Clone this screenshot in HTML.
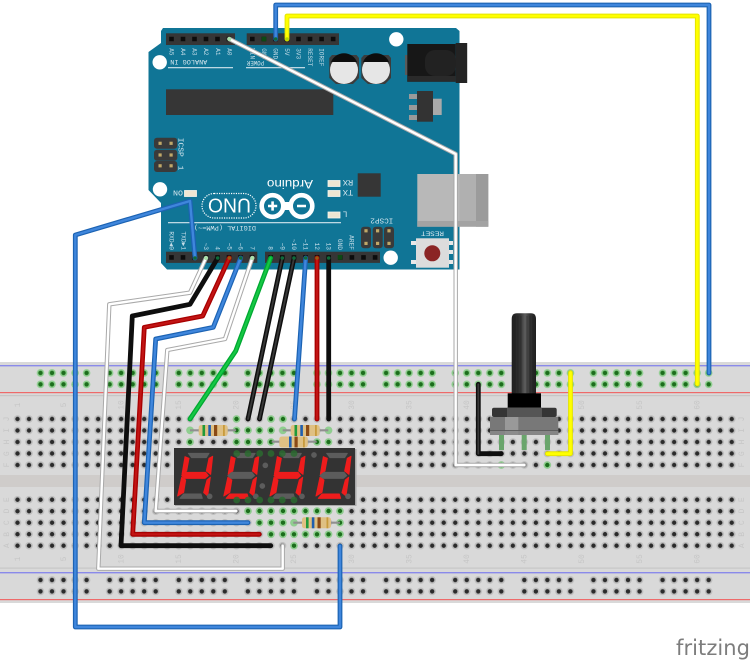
<!DOCTYPE html>
<html lang="en">
<head>
<meta charset="utf-8">
<title>Arduino breadboard diagram</title>
<style>
html,body{margin:0;padding:0;background:#fff;width:750px;height:661px;overflow:hidden}
svg{display:block;filter:blur(.35px)}
text{font-family:"Liberation Mono",monospace}
.lb{font-family:"Liberation Sans",sans-serif;font-size:8px;fill:#c6c6c6;text-anchor:middle}
.al{font-size:6px;fill:#c5dde8}
.ae{font-size:6.2px;fill:#c5dde8;text-anchor:end}
.h{font-size:6.6px;fill:#d5e6ee}
.w{fill:none;stroke-linejoin:round;stroke-linecap:round}
.on{fill:#ee1c1c;stroke:#ee1c1c;stroke-width:3;stroke-linejoin:round}
.off{fill:#5c5c5c;stroke:#5c5c5c;stroke-width:3;stroke-linejoin:round}
</style>
</head>
<body>
<svg width="750" height="661" viewBox="0 0 750 661" xmlns="http://www.w3.org/2000/svg">
<defs>
<pattern id="hm" x="11.74" y="413.25" width="11.52" height="11.5" patternUnits="userSpaceOnUse">
<circle cx="5.76" cy="5.75" r="3.8" fill="#bdbdbd"/><circle cx="5.76" cy="5.75" r="2.2" fill="#2b2b2b"/>
</pattern>
<pattern id="hb" x="11.74" y="493.95" width="11.52" height="11.5" patternUnits="userSpaceOnUse">
<circle cx="5.76" cy="5.75" r="3.8" fill="#bdbdbd"/><circle cx="5.76" cy="5.75" r="2.2" fill="#2b2b2b"/>
</pattern>
<pattern id="rt" x="34.74" y="367.25" width="69.12" height="11.4" patternUnits="userSpaceOnUse">
<circle cx="5.76" cy="5.7" r="3.8" fill="#8fce8f"/><circle cx="5.76" cy="5.7" r="2.2" fill="#1c6e1c"/>
<circle cx="17.28" cy="5.7" r="3.8" fill="#8fce8f"/><circle cx="17.28" cy="5.7" r="2.2" fill="#1c6e1c"/>
<circle cx="28.8" cy="5.7" r="3.8" fill="#8fce8f"/><circle cx="28.8" cy="5.7" r="2.2" fill="#1c6e1c"/>
<circle cx="40.32" cy="5.7" r="3.8" fill="#8fce8f"/><circle cx="40.32" cy="5.7" r="2.2" fill="#1c6e1c"/>
<circle cx="51.84" cy="5.7" r="3.8" fill="#8fce8f"/><circle cx="51.84" cy="5.7" r="2.2" fill="#1c6e1c"/>
</pattern>
<pattern id="rb" x="34.74" y="574.3" width="69.12" height="11.4" patternUnits="userSpaceOnUse">
<circle cx="5.76" cy="5.7" r="3.8" fill="#bdbdbd"/><circle cx="5.76" cy="5.7" r="2.2" fill="#2b2b2b"/>
<circle cx="17.28" cy="5.7" r="3.8" fill="#bdbdbd"/><circle cx="17.28" cy="5.7" r="2.2" fill="#2b2b2b"/>
<circle cx="28.8" cy="5.7" r="3.8" fill="#bdbdbd"/><circle cx="28.8" cy="5.7" r="2.2" fill="#2b2b2b"/>
<circle cx="40.32" cy="5.7" r="3.8" fill="#bdbdbd"/><circle cx="40.32" cy="5.7" r="2.2" fill="#2b2b2b"/>
<circle cx="51.84" cy="5.7" r="3.8" fill="#bdbdbd"/><circle cx="51.84" cy="5.7" r="2.2" fill="#2b2b2b"/>
</pattern>
<linearGradient id="shaft" x1="0" x2="1" y1="0" y2="0">
<stop offset="0" stop-color="#1e1e1e"/><stop offset=".35" stop-color="#333"/><stop offset=".55" stop-color="#5e5e5e"/><stop offset=".75" stop-color="#333"/><stop offset="1" stop-color="#1e1e1e"/>
</linearGradient>
</defs>

<!-- breadboard -->
<rect x="0" y="362" width="750" height="241" fill="#d9d9d9"/>
<rect x="0" y="475" width="750" height="12" fill="#cfccca"/>
<rect x="0" y="395" width="750" height="1.2" fill="#c6c6c6"/>
<rect x="0" y="567.5" width="750" height="1.2" fill="#c6c6c6"/>
<rect x="0" y="365" width="750" height="1.4" fill="#8a8aea"/>
<rect x="0" y="392" width="750" height="1.2" fill="#ee6a6a"/>
<rect x="0" y="572" width="750" height="1.4" fill="#8a8aea"/>
<rect x="0" y="599" width="750" height="1.2" fill="#ee6a6a"/>

<rect x="34.74" y="367.25" width="691.2" height="22.8" fill="url(#rt)"/>
<rect x="34.74" y="574.3" width="691.2" height="22.8" fill="url(#rb)"/>
<rect x="11.74" y="413.25" width="725" height="57.5" fill="url(#hm)"/>
<rect x="11.74" y="493.95" width="725" height="57.5" fill="url(#hb)"/>

<!-- labels -->
<g class="lb">
<text transform="translate(20,405) rotate(-90)">1</text><text transform="translate(66,405) rotate(-90)">5</text><text transform="translate(123.5,405) rotate(-90)">10</text><text transform="translate(181,405) rotate(-90)">15</text><text transform="translate(238.5,405) rotate(-90)">20</text><text transform="translate(296,405) rotate(-90)">25</text><text transform="translate(354,405) rotate(-90)">30</text><text transform="translate(411.5,405) rotate(-90)">35</text><text transform="translate(469,405) rotate(-90)">40</text><text transform="translate(526.5,405) rotate(-90)">45</text><text transform="translate(584,405) rotate(-90)">50</text><text transform="translate(642,405) rotate(-90)">55</text><text transform="translate(699.5,405) rotate(-90)">60</text>
<text transform="translate(20,559) rotate(-90)">1</text><text transform="translate(66,559) rotate(-90)">5</text><text transform="translate(123.5,559) rotate(-90)">10</text><text transform="translate(181,559) rotate(-90)">15</text><text transform="translate(238.5,559) rotate(-90)">20</text><text transform="translate(296,559) rotate(-90)">25</text><text transform="translate(354,559) rotate(-90)">30</text><text transform="translate(411.5,559) rotate(-90)">35</text><text transform="translate(469,559) rotate(-90)">40</text><text transform="translate(526.5,559) rotate(-90)">45</text><text transform="translate(584,559) rotate(-90)">50</text><text transform="translate(642,559) rotate(-90)">55</text><text transform="translate(699.5,559) rotate(-90)">60</text>
<text transform="translate(9,419) rotate(-90)">J</text><text transform="translate(9,430.3) rotate(-90)">I</text><text transform="translate(9,442) rotate(-90)">H</text><text transform="translate(9,453.7) rotate(-90)">G</text><text transform="translate(9,465) rotate(-90)">F</text>
<text transform="translate(9,499.7) rotate(-90)">E</text><text transform="translate(9,511) rotate(-90)">D</text><text transform="translate(9,522.7) rotate(-90)">C</text><text transform="translate(9,534.3) rotate(-90)">B</text><text transform="translate(9,545.7) rotate(-90)">A</text>
<text transform="translate(744,419) rotate(-90)">J</text><text transform="translate(744,430.3) rotate(-90)">I</text><text transform="translate(744,442) rotate(-90)">H</text><text transform="translate(744,453.7) rotate(-90)">G</text><text transform="translate(744,465) rotate(-90)">F</text>
<text transform="translate(744,499.7) rotate(-90)">E</text><text transform="translate(744,511) rotate(-90)">D</text><text transform="translate(744,522.7) rotate(-90)">C</text><text transform="translate(744,534.3) rotate(-90)">B</text><text transform="translate(744,545.7) rotate(-90)">A</text>
</g>

<!-- connected green holes -->
<g fill="#8fce8f">
<circle cx="236.5" cy="419" r="3.8"/><circle cx="271" cy="419" r="3.8"/><circle cx="283" cy="419" r="3.8"/>
<circle cx="190" cy="430.3" r="3.8"/><circle cx="236.5" cy="430.3" r="3.8"/><circle cx="248" cy="430.3" r="3.8"/><circle cx="259.5" cy="430.3" r="3.8"/><circle cx="271" cy="430.3" r="3.8"/><circle cx="283" cy="430.3" r="3.8"/><circle cx="328.5" cy="430.3" r="3.8"/>
<circle cx="190" cy="442" r="3.8"/><circle cx="236.5" cy="442" r="3.8"/><circle cx="248" cy="442" r="3.8"/><circle cx="259.5" cy="442" r="3.8"/><circle cx="271" cy="442" r="3.8"/><circle cx="317" cy="442" r="3.8"/><circle cx="328.5" cy="442" r="3.8"/>
<circle cx="248" cy="511" r="3.8"/><circle cx="259.5" cy="511" r="3.8"/><circle cx="271" cy="511" r="3.8"/><circle cx="283" cy="511" r="3.8"/><circle cx="294" cy="511" r="3.8"/><circle cx="305.5" cy="511" r="3.8"/><circle cx="317" cy="511" r="3.8"/><circle cx="328.5" cy="511" r="3.8"/><circle cx="340" cy="511" r="3.8"/>
<circle cx="259.5" cy="522.7" r="3.8"/><circle cx="271" cy="522.7" r="3.8"/><circle cx="283" cy="522.7" r="3.8"/><circle cx="294" cy="522.7" r="3.8"/><circle cx="340" cy="522.7" r="3.8"/>
<circle cx="271" cy="534.3" r="3.8"/><circle cx="283" cy="534.3" r="3.8"/><circle cx="294" cy="534.3" r="3.8"/><circle cx="305.5" cy="534.3" r="3.8"/><circle cx="317" cy="534.3" r="3.8"/><circle cx="328.5" cy="534.3" r="3.8"/><circle cx="340" cy="534.3" r="3.8"/>
<circle cx="294" cy="545.7" r="3.8"/><circle cx="501.3" cy="465" r="3.8"/><circle cx="547.3" cy="465" r="3.8"/>
</g>
<g fill="#1c6e1c">
<circle cx="236.5" cy="419" r="2.2"/><circle cx="271" cy="419" r="2.2"/><circle cx="283" cy="419" r="2.2"/>
<circle cx="236.5" cy="430.3" r="2.2"/><circle cx="248" cy="430.3" r="2.2"/><circle cx="259.5" cy="430.3" r="2.2"/><circle cx="271" cy="430.3" r="2.2"/>
<circle cx="190" cy="442" r="2.2"/><circle cx="236.5" cy="442" r="2.2"/><circle cx="248" cy="442" r="2.2"/><circle cx="259.5" cy="442" r="2.2"/><circle cx="271" cy="442" r="2.2"/><circle cx="317" cy="442" r="2.2"/><circle cx="328.5" cy="442" r="2.2"/>
<circle cx="248" cy="511" r="2.2"/><circle cx="259.5" cy="511" r="2.2"/><circle cx="271" cy="511" r="2.2"/><circle cx="283" cy="511" r="2.2"/><circle cx="294" cy="511" r="2.2"/><circle cx="305.5" cy="511" r="2.2"/><circle cx="317" cy="511" r="2.2"/><circle cx="328.5" cy="511" r="2.2"/><circle cx="340" cy="511" r="2.2"/>
<circle cx="259.5" cy="522.7" r="2.2"/><circle cx="271" cy="522.7" r="2.2"/><circle cx="283" cy="522.7" r="2.2"/><circle cx="340" cy="522.7" r="2.2"/>
<circle cx="271" cy="534.3" r="2.2"/><circle cx="283" cy="534.3" r="2.2"/><circle cx="294" cy="534.3" r="2.2"/><circle cx="305.5" cy="534.3" r="2.2"/><circle cx="317" cy="534.3" r="2.2"/><circle cx="328.5" cy="534.3" r="2.2"/><circle cx="340" cy="534.3" r="2.2"/>
<circle cx="294" cy="545.7" r="2.2"/><circle cx="501.3" cy="465" r="2.2"/><circle cx="547.3" cy="465" r="2.2"/>
</g>

<!-- resistors -->
<g>
<path d="M190 430.3H236M282.7 430.3H328.3M271.7 441.7H316.7M293.3 522.7H340" stroke="#8f8f8f" stroke-width="2.2"/>
<rect x="198.7" y="425" width="29" height="11" rx="2.5" fill="#dfc083"/>
<rect x="290.7" y="425" width="29" height="11" rx="2.5" fill="#dfc083"/>
<rect x="279.3" y="436.5" width="28.5" height="11" rx="2.5" fill="#dfc083"/>
<rect x="302" y="517.3" width="29" height="11" rx="2.5" fill="#dfc083"/>
<g fill="#1f9a3a"><rect x="202.5" y="425" width="2.6" height="11"/><rect x="294.5" y="425" width="2.6" height="11"/><rect x="306" y="517.3" width="2.6" height="11"/></g>
<g fill="#1f5fb0"><rect x="208.3" y="425" width="2.6" height="11"/><rect x="300.3" y="425" width="2.6" height="11"/><rect x="289" y="436.5" width="2.6" height="11"/><rect x="311.8" y="517.3" width="2.6" height="11"/></g>
<g fill="#8a4a16"><rect x="214" y="425" width="3.2" height="11"/><rect x="306" y="425" width="3.2" height="11"/><rect x="294.5" y="436.5" width="3.2" height="11"/><rect x="317.5" y="517.3" width="3.2" height="11"/></g>
<g fill="#c89b3c"><rect x="223" y="425" width="1.8" height="11"/><rect x="315" y="425" width="1.8" height="11"/><rect x="303" y="436.5" width="1.8" height="11"/><rect x="326.5" y="517.3" width="1.8" height="11"/></g>
</g>

<!-- 7 segment display -->
<rect x="175" y="449" width="181.5" height="57" fill="#a9a9a9"/>
<rect x="174" y="448" width="181" height="57" fill="#333"/>
<g transform="translate(165,415) scale(.3333)">
<g>
<polygon class="off" points="70,115 132,115 124,128 80,128"/><polygon class="on" points="60,125 72,130 65,168 51,178"/><polygon class="on" points="132,130 143,124 137,178 124,168"/><polygon class="on" points="50,182 62,172 122,172 130,182 120,190 58,190"/><polygon class="on" points="50,187 62,195 56,232 38,243"/><polygon class="on" points="126,195 136,187 128,243 116,233"/><polygon class="off" points="45,250 56,237 108,237 112,250"/><circle class="off" cx="134" cy="244" r="7"/>
</g>
<g transform="translate(138.5,0)">
<polygon class="off" points="70,115 132,115 124,128 80,128"/><polygon class="on" points="60,125 72,130 65,168 51,178"/><polygon class="on" points="132,130 143,124 137,178 124,168"/><polygon class="off" points="50,182 62,172 122,172 130,182 120,190 58,190"/><polygon class="on" points="50,187 62,195 56,232 38,243"/><polygon class="on" points="126,195 136,187 128,243 116,233"/><polygon class="on" points="45,250 56,237 108,237 112,250"/><circle class="off" cx="134" cy="244" r="7"/>
</g>
<g transform="translate(277,0)">
<polygon class="off" points="70,115 132,115 124,128 80,128"/><polygon class="on" points="60,125 72,130 65,168 51,178"/><polygon class="on" points="132,130 143,124 137,178 124,168"/><polygon class="on" points="50,182 62,172 122,172 130,182 120,190 58,190"/><polygon class="on" points="50,187 62,195 56,232 38,243"/><polygon class="on" points="126,195 136,187 128,243 116,233"/><polygon class="off" points="45,250 56,237 108,237 112,250"/><circle class="off" cx="134" cy="244" r="7"/>
</g>
<g transform="translate(415,0)">
<polygon class="off" points="70,115 132,115 124,128 80,128"/><polygon class="on" points="60,125 72,130 65,168 51,178"/><polygon class="on" points="132,130 143,124 137,178 124,168"/><polygon class="off" points="50,182 62,172 122,172 130,182 120,190 58,190"/><polygon class="on" points="50,187 62,195 56,232 38,243"/><polygon class="on" points="126,195 136,187 128,243 116,233"/><polygon class="on" points="45,250 56,237 108,237 112,250"/><circle class="off" cx="134" cy="244" r="7"/>
</g>
<circle class="off" cx="301" cy="151" r="7"/><circle class="off" cx="292" cy="213" r="7"/><circle class="off" cx="447" cy="120" r="7"/>
</g>
<g fill="#2c6a30" fill-opacity=".85">
<circle cx="236.7" cy="453.5" r="3.4"/><circle cx="248" cy="453.5" r="3.4"/><circle cx="259.7" cy="453.5" r="3.4"/><circle cx="271" cy="453.5" r="3.4"/><circle cx="282.3" cy="453.5" r="3.4"/><circle cx="294" cy="453.5" r="3.4"/>
<circle cx="236.7" cy="500" r="3.4"/><circle cx="248" cy="500" r="3.4"/><circle cx="259.7" cy="500" r="3.4"/><circle cx="271" cy="500" r="3.4"/><circle cx="282.3" cy="500" r="3.4"/><circle cx="294" cy="500" r="3.4"/>
</g>

<!-- potentiometer -->
<g>
<rect x="499" y="435" width="5" height="15" fill="#6aa56c"/><rect x="521.7" y="435" width="5" height="15" fill="#6aa56c"/><rect x="545" y="435" width="5" height="15" fill="#6aa56c"/>
<path d="M511.7 319Q511.7 313.3 517 313.3H531Q536 313.3 536 319V394H511.7Z" fill="url(#shaft)"/>
<path d="M515 316V393M518 316V393M521 316V393M527 316V393M530 316V393M533 316V393" stroke="#151515" stroke-width=".5" opacity=".6"/>
<rect x="507.7" y="393.3" width="33.3" height="14.4" fill="#000"/>
<rect x="492" y="407.7" width="64.7" height="9.3" rx="2" fill="#353535"/>
<rect x="507" y="407.7" width="35" height="9.5" fill="#555"/>
<rect x="490" y="417" width="68.3" height="18" fill="#787878"/>
<rect x="505" y="417" width="13.3" height="18" fill="#999"/>
<rect x="490" y="430.5" width="68.3" height="4.5" fill="#8a8a8a" opacity=".8"/>
<rect x="490" y="430" width="68.3" height=".8" fill="#555"/>
</g>

<!-- arduino -->
<path d="M163 28H456L459.5 31V269.5H167L161 263V203L148.5 190V52L161 43V31Z" fill="#107596"/>
<rect x="417.3" y="174" width="71" height="52.7" fill="#b8b8b8"/>
<rect x="476" y="174" width="12.3" height="52.7" fill="#9b9b9b"/>
<rect x="417.3" y="221" width="71" height="5.7" fill="#a3a3a3"/>
<rect x="459.5" y="174" width="16.5" height="47" fill="#b0b0b0"/>

<g fill="#fff"><circle cx="396.3" cy="39.3" r="7.2"/><circle cx="159.7" cy="62.3" r="7.2"/><circle cx="160" cy="189.3" r="7.2"/><circle cx="390.7" cy="257.7" r="7.2"/></g>
<g fill="#363636">
<rect x="166" y="33.3" width="69" height="11.7"/><rect x="246.7" y="33.3" width="92.3" height="11.7"/>
<rect x="166" y="251.7" width="91.3" height="11.2"/><rect x="265" y="251.7" width="115" height="11.2"/>
<rect x="166" y="89.3" width="167.3" height="25.7"/>
<rect x="357.7" y="173.3" width="23" height="23.4"/>
</g>
<g stroke="#0c0c0c" stroke-width="4.6" fill="none">
<line x1="169.2" y1="39" x2="235" y2="39" stroke-dasharray="4.6 6.9"/>
<line x1="250" y1="39" x2="338" y2="39" stroke-dasharray="4.6 6.95"/>
<line x1="169.2" y1="257.4" x2="256" y2="257.4" stroke-dasharray="4.6 6.9"/>
<line x1="268.4" y1="257.4" x2="379" y2="257.4" stroke-dasharray="4.6 7"/>
</g>
<rect x="261.7" y="36.7" width="4.6" height="4.6" fill="#0c4a14"/>
<rect x="337.7" y="255" width="4.6" height="4.6" fill="#0c4a14"/>

<!-- ICSP -->
<g fill="#3a3a3a">
<rect x="154" y="137.7" width="23.3" height="11" rx="3"/><rect x="154" y="149.7" width="23.3" height="11" rx="3"/><rect x="154" y="161" width="23.3" height="11" rx="3"/>
<rect x="361" y="226.7" width="10" height="21.6" rx="3"/><rect x="372.7" y="226.7" width="10" height="21.6" rx="3"/><rect x="384" y="226.7" width="10" height="21.6" rx="3"/>
</g>
<g fill="#c0a868">
<rect x="158.5" y="141.7" width="3.2" height="3.2"/><rect x="169.5" y="141.7" width="3.2" height="3.2"/><rect x="158.5" y="153.4" width="3.2" height="3.2"/><rect x="169.5" y="153.4" width="3.2" height="3.2"/><rect x="158.5" y="164.2" width="3.2" height="3.2"/><rect x="169.5" y="164.2" width="3.2" height="3.2"/>
<rect x="364.4" y="229.2" width="3.2" height="3.2"/><rect x="376" y="229.2" width="3.2" height="3.2"/><rect x="387.4" y="229.2" width="3.2" height="3.2"/><rect x="364.4" y="241.8" width="3.2" height="3.2"/><rect x="376" y="241.8" width="3.2" height="3.2"/><rect x="387.4" y="241.8" width="3.2" height="3.2"/>
</g>

<!-- capacitors -->
<g>
<path d="M332 55H356.5L359 58V78L353 84H336L329.3 78V58Z" fill="#3c3c3c"/>
<path d="M364 55H388.5L391 58V78L385 84H368L361.3 78V58Z" fill="#3c3c3c"/>
<circle cx="344" cy="70" r="14" fill="#e6e6e6"/><circle cx="376" cy="70" r="14" fill="#e6e6e6"/>
<path d="M331 62A14 14 0 0 1 357 62Z" fill="#0d0d0d"/><path d="M363 62A14 14 0 0 1 389 62Z" fill="#0d0d0d"/>
</g>

<!-- power jack -->
<rect x="405" y="55" width="3" height="20" fill="#5a5a5a"/>
<rect x="407.3" y="44" width="48.4" height="37.7" fill="#171717"/>
<rect x="407.3" y="76" width="48.4" height="5.7" fill="#2a2a2a"/>
<rect x="425" y="50" width="31" height="26" rx="10" fill="#222"/>
<rect x="455.7" y="43" width="11.5" height="40" fill="#242424"/>

<!-- regulator -->
<g fill="#9a9a9a"><rect x="409" y="94" width="8" height="5"/><rect x="409" y="105" width="8" height="5"/><rect x="409" y="115" width="8" height="5"/></g>
<rect x="433" y="98.7" width="8.7" height="16.3" fill="#aaa"/>
<rect x="417" y="91" width="16" height="30.7" fill="#333"/>

<!-- reset -->
<g fill="#e8e8e8"><rect x="411" y="241" width="5" height="4"/><rect x="411" y="260" width="5" height="4"/><rect x="449" y="241" width="4" height="4"/><rect x="449" y="250" width="4" height="4"/><rect x="449" y="260" width="4" height="4"/></g>
<rect x="416" y="238.3" width="33" height="29.4" fill="#dcdcdc"/>
<circle cx="432.3" cy="253.3" r="8" fill="#8b2525"/>

<!-- LEDs -->
<g fill="#efe6d2" stroke="#f8f6ee" stroke-width=".8">
<rect x="184.5" y="190.5" width="12" height="6"/><rect x="328" y="180.5" width="12" height="6"/><rect x="328" y="190.5" width="12" height="6"/><rect x="328" y="212" width="12" height="6"/>
</g>

<!-- silk lines -->
<g stroke="#d5e6ee" stroke-width="1.1" fill="none">
<line x1="168" y1="67.7" x2="233" y2="67.7"/><line x1="246" y1="67.7" x2="305" y2="67.7"/><line x1="168" y1="222.7" x2="341" y2="222.7"/>
</g>

<!-- logo -->
<rect x="202" y="193.5" width="54" height="24.5" rx="12.2" fill="none" stroke="#fff" stroke-width="1.2" stroke-dasharray="1.2 1.2"/>
<text transform="translate(251,198.5) rotate(180)" font-size="20" fill="#fff" textLength="43" lengthAdjust="spacingAndGlyphs" style="font-family:'Liberation Sans',sans-serif">UNO</text>
<circle cx="272.5" cy="206" r="10.8" fill="none" stroke="#fff" stroke-width="4.6"/>
<circle cx="301.5" cy="206" r="10.8" fill="none" stroke="#fff" stroke-width="4.6"/>
<rect x="283" y="202" width="8" height="8" fill="#fff"/>
<path d="M268 206h9.2M272.6 201.4v9.2M297 206h9" stroke="#fff" stroke-width="2.6" fill="none"/>
<text transform="translate(313,180) rotate(180)" font-size="11.5" fill="#fff" textLength="46" lengthAdjust="spacingAndGlyphs" style="font-family:'Liberation Sans',sans-serif">Arduino</text>

<!-- board text -->
<g class="h">
<text transform="translate(207.3,60) rotate(180)" textLength="37" lengthAdjust="spacingAndGlyphs" style="font-size:6px">ANALOG IN</text>
<text transform="translate(264,61) rotate(180)" textLength="17" lengthAdjust="spacingAndGlyphs" style="font-size:6px">POWER</text>
<text transform="translate(256,226) rotate(180)" textLength="62" lengthAdjust="spacingAndGlyphs" style="font-size:6px">DIGITAL (PWM=~)</text>
<text transform="translate(183,190.7) rotate(180)" textLength="10" lengthAdjust="spacingAndGlyphs" style="font-size:7px">ON</text>
<text transform="translate(353.3,180) rotate(180)" textLength="10.6" lengthAdjust="spacingAndGlyphs" style="font-size:8px">RX</text>
<text transform="translate(353.3,190) rotate(180)" textLength="10.6" lengthAdjust="spacingAndGlyphs" style="font-size:8px">TX</text>
<text transform="translate(347.5,211.7) rotate(180)" style="font-size:8px">L</text>
<text transform="translate(393.3,218.3) rotate(180)" textLength="23" lengthAdjust="spacingAndGlyphs" style="font-size:7.5px">ICSP2</text>
<text transform="translate(444,231.7) rotate(180)" textLength="23" lengthAdjust="spacingAndGlyphs" style="font-size:6.5px">RESET</text>
<text transform="translate(178.5,137.7) rotate(90)" textLength="19" lengthAdjust="spacingAndGlyphs" style="font-size:7.5px">ICSP</text>
<text transform="translate(178.5,165.7) rotate(90)" style="font-size:7.5px">1</text>
</g>
<g class="al">
<text transform="translate(169.5,48.3) rotate(90)">A5</text><text transform="translate(181,48.3) rotate(90)">A4</text><text transform="translate(192.6,48.3) rotate(90)">A3</text><text transform="translate(204.2,48.3) rotate(90)">A2</text><text transform="translate(216,48.3) rotate(90)">A1</text><text transform="translate(227.4,48.3) rotate(90)">A0</text>
<text transform="translate(250.3,48.3) rotate(90)">VIN</text><text transform="translate(262,48.3) rotate(90)">GND</text><text transform="translate(273.7,48.3) rotate(90)">GND</text><text transform="translate(285,48.3) rotate(90)">5V</text><text transform="translate(296.6,48.3) rotate(90)">3V3</text><text transform="translate(308,48.3) rotate(90)">RESET</text><text transform="translate(319.6,48.3) rotate(90)">IOREF</text>
</g>
<g class="ae">
<text transform="translate(169.5,250) rotate(90)">RXD◄0</text><text transform="translate(181.3,250) rotate(90)">TXD►1</text>
<text transform="translate(204,250) rotate(90)">~3</text><text transform="translate(215.7,250) rotate(90)">4</text><text transform="translate(227.3,250) rotate(90)">~5</text><text transform="translate(238.7,250) rotate(90)">~6</text><text transform="translate(250.3,250) rotate(90)">7</text>
<text transform="translate(268.7,250) rotate(90)">8</text><text transform="translate(280.3,250) rotate(90)">~9</text><text transform="translate(292,250) rotate(90)">~10</text><text transform="translate(303.7,250) rotate(90)">~11</text><text transform="translate(315,250) rotate(90)">12</text><text transform="translate(326.7,250) rotate(90)">13</text><text transform="translate(338,250) rotate(90)">GND</text><text transform="translate(349.7,250) rotate(90)">AREF</text>
</g>

<!-- wires -->
<g class="w" stroke="#1c63b3" stroke-width="4.8">
<path d="M275.7 39V5H709V373"/>
<path d="M195 258L190 201L75.3 235V627H340V546"/>
<path d="M240.7 258L213.3 327.3L155.7 339L144.3 522.7H248"/>
<path d="M305.7 258L294.5 419"/>
</g>
<g class="w" stroke="#3f86dc" stroke-width="2.4">
<path d="M275.7 39V5H709V373"/>
<path d="M195 258L190 201L75.3 235V627H340V546"/>
<path d="M240.7 258L213.3 327.3L155.7 339L144.3 522.7H248"/>
<path d="M305.7 258L294.5 419"/>
</g>
<g class="w" stroke="#e4e400" stroke-width="4.8">
<path d="M287 39V16H697.3V384"/><path d="M570.5 372.7V453.7H547.3"/>
</g>
<g class="w" stroke="#ffff00" stroke-width="2.8">
<path d="M287 39V16H697.3V384"/><path d="M570.5 372.7V453.7H547.3"/>
</g>
<g class="w" stroke="#a9a9a9" stroke-width="4.4">
<path d="M229.3 39L455.7 154V465H524.3"/>
<path d="M206 258L190 292.7L109.3 304.3L98.3 568.7H282.7V545.7"/>
<path d="M252.3 258L225 339L167.3 350L155.7 511H236"/>
</g>
<g class="w" stroke="#fff" stroke-width="2.4">
<path d="M229.3 39L455.7 154V465H524.3"/>
<path d="M206 258L190 292.7L109.3 304.3L98.3 568.7H282.7V545.7"/>
<path d="M252.3 258L225 339L167.3 350L155.7 511H236"/>
</g>
<g class="w" stroke="#0e0e0e" stroke-width="4.8">
<path d="M217.7 258L190 304.3L132.3 316L121 545.7H270.7"/>
<path d="M282.3 258L248 419"/><path d="M294 258L259.5 419"/><path d="M328.7 258V419"/>
<path d="M478.3 384.3V453.7H501.3"/>
</g>
<g class="w" stroke="#383838" stroke-width="1.8">
<path d="M282.3 258L248 419"/><path d="M294 258L259.5 419"/><path d="M478.3 384.3V453.7"/>
</g>
<g class="w" stroke="#a80000" stroke-width="4.8">
<path d="M229.3 258L202.7 316L144.3 327.3L132.7 534.3H259.3"/><path d="M317 258V419"/>
</g>
<g class="w" stroke="#c21414" stroke-width="2.2">
<path d="M229.3 258L202.7 316L144.3 327.3L132.7 534.3H259.3"/><path d="M317 258V419"/>
</g>
<path class="w" d="M270.7 258L235.7 351L190 419" stroke="#00a832" stroke-width="4.8"/>
<path class="w" d="M270.7 258L235.7 351L190 419" stroke="#16c844" stroke-width="2.2"/>

<!-- wire ends on pins -->
<g fill="#a9e0a9">
<circle cx="229.3" cy="39" r="2"/><circle cx="206" cy="258" r="2"/><circle cx="252.3" cy="258" r="2"/>
</g>
<g fill="#0f6a3a">
<circle cx="275.7" cy="39" r="1.8"/><circle cx="195" cy="258" r="1.8"/><circle cx="240.7" cy="258" r="1.8"/><circle cx="305.7" cy="258" r="1.8"/><circle cx="217.7" cy="258" r="1.8"/><circle cx="282.3" cy="258" r="1.8"/><circle cx="294" cy="258" r="1.8"/><circle cx="328.7" cy="258" r="1.8"/>
</g>
<g fill="#9a5a10"><circle cx="229.3" cy="258" r="1.8"/><circle cx="317" cy="258" r="1.8"/></g>
<circle cx="287" cy="39" r="1.8" fill="#b4d800"/>

<!-- fritzing -->
<text x="676" y="655" textLength="74" lengthAdjust="spacing" font-size="21" fill="#7d7d7d" style="font-family:'DejaVu Sans',sans-serif">fritzing</text>
</svg>
</body>
</html>
